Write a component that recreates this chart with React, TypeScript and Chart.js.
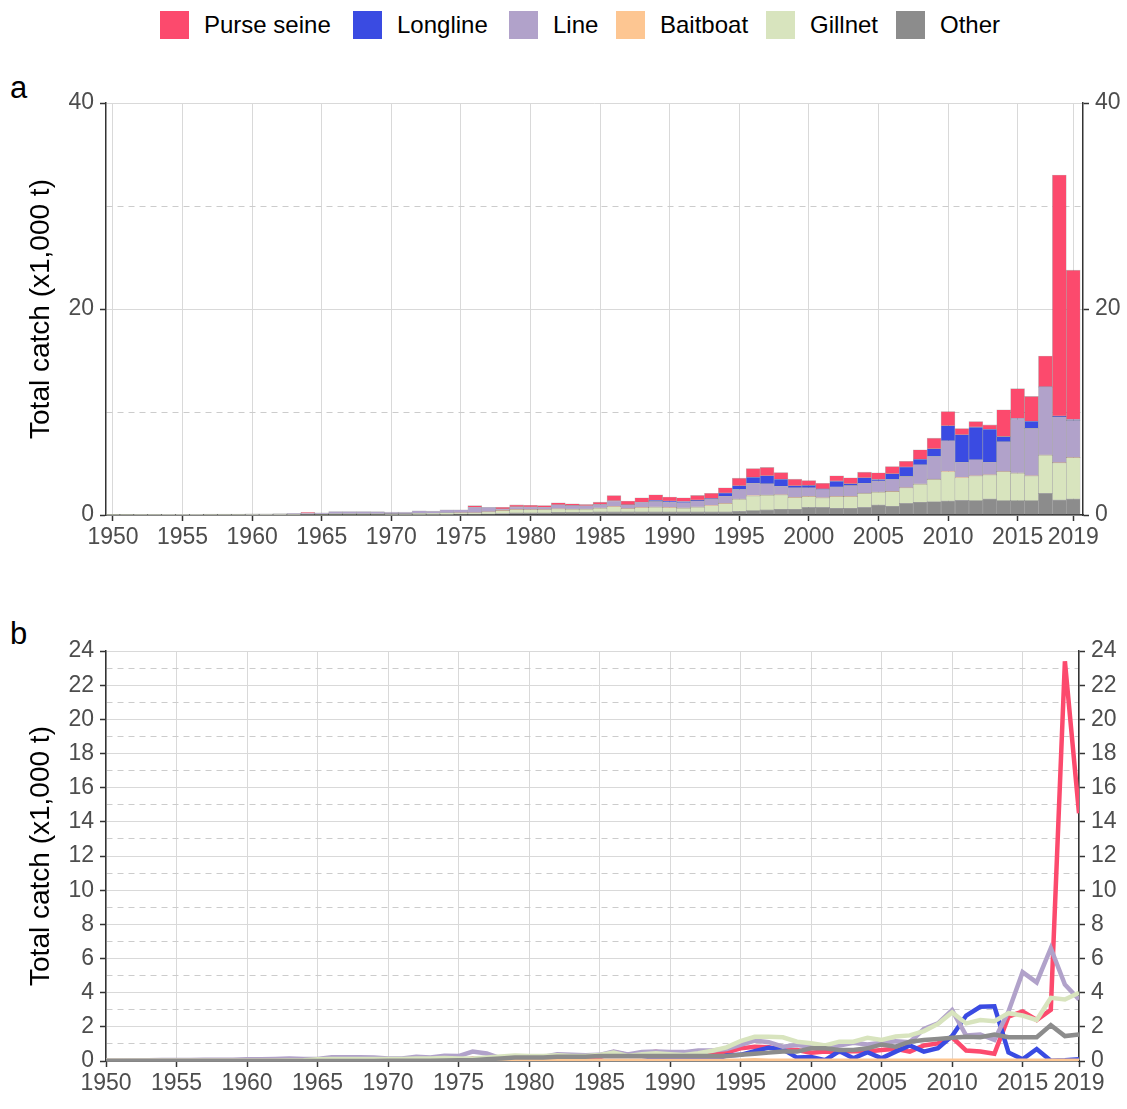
import React, { useEffect, useRef } from 'react';
import { Chart, registerables } from 'chart.js';

Chart.register(...registerables);

const years = [
  1950, 1951, 1952, 1953, 1954, 1955, 1956, 1957, 1958, 1959,
  1960, 1961, 1962, 1963, 1964, 1965, 1966, 1967, 1968, 1969,
  1970, 1971, 1972, 1973, 1974, 1975, 1976, 1977, 1978, 1979,
  1980, 1981, 1982, 1983, 1984, 1985, 1986, 1987, 1988, 1989,
  1990, 1991, 1992, 1993, 1994, 1995, 1996, 1997, 1998, 1999,
  2000, 2001, 2002, 2003, 2004, 2005, 2006, 2007, 2008, 2009,
  2010, 2011, 2012, 2013, 2014, 2015, 2016, 2017, 2018, 2019,
];

const purseSeine = [
  0, 0, 0, 0, 0, 0, 0, 0, 0, 0,
  0, 0, 0, 0, 0.08, 0, 0, 0, 0, 0,
  0, 0, 0, 0, 0, 0, 0.15, 0, 0.16, 0.19,
  0.16, 0.16, 0.2, 0.16, 0.13, 0.22, 0.52, 0.35, 0.43, 0.54,
  0.38, 0.36, 0.45, 0.52, 0.5, 0.74, 0.84, 0.81, 0.65, 0.64,
  0.48, 0.55, 0.52, 0.58, 0.55, 0.65, 0.71, 0.55, 0.91, 1.03,
  1.39, 0.61, 0.55, 0.42, 2.6, 2.9, 2.4, 3.0, 23.4, 14.5,
];

const longline = [
  0, 0, 0, 0, 0, 0, 0, 0, 0, 0,
  0, 0, 0, 0, 0, 0, 0, 0, 0, 0,
  0, 0, 0, 0, 0, 0, 0, 0, 0, 0,
  0, 0, 0, 0, 0, 0, 0, 0, 0, 0.1,
  0.12, 0.12, 0.06, 0.05, 0.32, 0.36, 0.58, 0.78, 0.68, 0.2,
  0.23, 0.05, 0.58, 0.16, 0.52, 0.16, 0.55, 0.91, 0.55, 0.75,
  1.46, 2.66, 3.17, 3.2, 0.5, 0.1, 0.7, 0.02, 0.05, 0.1,
];

const lineGear = [
  0.03, 0.03, 0.04, 0.04, 0.06, 0.06, 0.06, 0.07, 0.07, 0.08,
  0.1, 0.1, 0.12, 0.14, 0.12, 0.12, 0.22, 0.22, 0.22, 0.2,
  0.15, 0.15, 0.25, 0.2, 0.3, 0.29, 0.55, 0.44, 0.16, 0.26,
  0.26, 0.24, 0.39, 0.36, 0.33, 0.36, 0.55, 0.38, 0.52, 0.55,
  0.52, 0.52, 0.62, 0.62, 0.7, 0.94, 1.2, 1.1, 0.84, 0.94,
  0.84, 0.81, 0.91, 1.07, 0.97, 1.07, 1.16, 1.1, 1.87, 2.2,
  2.98, 1.49, 1.55, 1.23, 2.9, 5.2, 4.6, 6.6, 4.47, 3.6,
];

const baitboat = [
  0, 0, 0, 0, 0, 0, 0, 0, 0, 0,
  0, 0, 0, 0, 0, 0, 0, 0, 0, 0,
  0, 0, 0, 0, 0, 0.01, 0.01, 0.01, 0.01, 0.01,
  0.02, 0.02, 0.02, 0.02, 0.02, 0.02, 0.02, 0.02, 0.02, 0.02,
  0.02, 0.02, 0.02, 0.02, 0.02, 0.02, 0.05, 0.02, 0.02, 0.02,
  0.02, 0.02, 0.02, 0.02, 0.02, 0.02, 0.02, 0.02, 0.02, 0.02,
  0.02, 0.02, 0.02, 0.02, 0.02, 0.02, 0.02, 0.02, 0.02, 0.02,
];

const gillnet = [
  0.01, 0.01, 0.01, 0.01, 0.01, 0.01, 0.01, 0.01, 0.01, 0.01,
  0.01, 0.01, 0.01, 0.03, 0.05, 0.1, 0.12, 0.12, 0.12, 0.12,
  0.12, 0.12, 0.15, 0.15, 0.18, 0.15, 0.15, 0.2, 0.27, 0.32,
  0.3, 0.3, 0.33, 0.3, 0.3, 0.35, 0.5, 0.3, 0.4, 0.45,
  0.4, 0.35, 0.45, 0.6, 0.8, 1.16, 1.42, 1.42, 1.39, 1.13,
  1.04, 0.91, 1.13, 1.13, 1.36, 1.23, 1.43, 1.5, 1.75, 2.17,
  2.84, 2.2, 2.4, 2.33, 2.8, 2.66, 2.4, 3.7, 3.6, 4.0,
];

const other = [
  0, 0, 0, 0, 0, 0, 0, 0, 0, 0,
  0, 0, 0, 0, 0, 0, 0, 0, 0, 0,
  0.01, 0.01, 0.01, 0.02, 0.03, 0.05, 0.05, 0.1, 0.15, 0.2,
  0.2, 0.2, 0.25, 0.25, 0.25, 0.3, 0.3, 0.3, 0.3, 0.3,
  0.3, 0.3, 0.3, 0.3, 0.3, 0.36, 0.42, 0.49, 0.55, 0.55,
  0.74, 0.74, 0.65, 0.65, 0.74, 0.97, 0.84, 1.13, 1.23, 1.29,
  1.36, 1.42, 1.39, 1.55, 1.39, 1.39, 1.39, 2.1, 1.46, 1.55,
];

const xTickYears = [1950, 1955, 1960, 1965, 1970, 1975, 1980, 1985, 1990, 1995, 2000, 2005, 2010, 2015, 2019];
const gearNames = ['Purse seine', 'Longline', 'Line', 'Baitboat', 'Gillnet', 'Other'];
const gearColors = ['#FC4A6D', '#3A4BE2', '#B1A2CA', '#FDC692', '#D8E4BE', '#8C8C8C'];
const seriesList = [purseSeine, longline, lineGear, baitboat, gillnet, other];

const FONT = "'Liberation Sans', Arial, sans-serif";
const TICK_COLOR = '#4d4d4d';
const AXIS_COLOR = '#333333';
const GRID_COLOR = '#d9d9d9';
const MINOR_GRID_COLOR = '#cccccc';

function points(arr: number[]) {
  return years.map((y, i) => ({ x: y, y: arr[i] }));
}

function xAxis(min: number, max: number, height: number) {
  return {
    type: 'linear' as const,
    min,
    max,
    offset: false,
    stacked: true,
    afterBuildTicks: (s: any) => {
      s.ticks = xTickYears.map((v) => ({ value: v }));
    },
    afterFit: (s: any) => {
      s.height = height;
    },
    ticks: {
      autoSkip: false,
      maxRotation: 0,
      minRotation: 0,
      padding: 3,
      color: TICK_COLOR,
      font: { family: FONT, size: 23 },
      callback: (v: any) => String(v),
    },
    grid: { color: GRID_COLOR, lineWidth: 1, tickLength: 6, tickColor: AXIS_COLOR, tickWidth: 1.5, offset: false },
    border: { display: true, color: AXIS_COLOR, width: 1.5 },
  };
}

function yAxis(
  position: 'left' | 'right',
  max: number,
  major: number,
  width: number,
  withTitle: boolean,
  onArea: boolean
) {
  const isMinor = (ctx: any) => ctx.tick && Math.round(ctx.tick.value) % major !== 0;
  return {
    type: 'linear' as const,
    position,
    min: 0,
    max,
    stacked: true,
    afterFit: (s: any) => {
      s.width = width;
    },
    ticks: {
      stepSize: major / 2,
      autoSkip: false,
      padding: 6,
      color: TICK_COLOR,
      font: { family: FONT, size: 23 },
      callback: (v: any) => (Math.round(v) % major === 0 ? String(v) : ''),
    },
    grid: {
      drawOnChartArea: onArea,
      color: (ctx: any) => (isMinor(ctx) ? MINOR_GRID_COLOR : GRID_COLOR),
      lineWidth: 1,
      tickLength: 6,
      tickWidth: 1.5,
      tickColor: (ctx: any) => (isMinor(ctx) ? 'rgba(0,0,0,0)' : AXIS_COLOR),
    },
    border: {
      display: true,
      color: AXIS_COLOR,
      width: 1.5,
      dash: (ctx: any) => (isMinor(ctx) ? [6, 5] : []),
    },
    title: {
      display: withTitle,
      text: 'Total catch (x1,000 t)',
      color: '#000000',
      font: { family: FONT, size: 28 },
      padding: { top: 24, bottom: 0 },
    },
  };
}

function StackedPanel() {
  const ref = useRef<HTMLCanvasElement | null>(null);
  useEffect(() => {
    if (!ref.current) return;
    const order = [5, 4, 3, 2, 1, 0]; // bottom to top: Other ... Purse seine
    const chart = new Chart(ref.current, {
      type: 'bar',
      data: {
        datasets: order.map((k) => ({
          label: gearNames[k],
          data: points(seriesList[k]),
          backgroundColor: gearColors[k],
          borderColor: 'rgba(70,70,70,0.35)',
          borderWidth: 0.6,
          borderSkipped: false,
          barPercentage: 1,
          categoryPercentage: 1,
          yAxisID: 'y',
        })),
      },
      options: {
        animation: false,
        responsive: false,
        maintainAspectRatio: false,
        layout: { padding: { top: 43, left: 0, right: 0, bottom: 0 } },
        plugins: { legend: { display: false }, tooltip: { enabled: false } },
        scales: {
          x: xAxis(1949.5, 2019.7, 45),
          y: yAxis('left', 40, 20, 106, true, true),
          y2: yAxis('right', 40, 20, 44, false, false),
        } as any,
      },
    });
    return () => chart.destroy();
  }, []);
  return <canvas ref={ref} width={1127} height={500} style={{ position: 'absolute', left: 0, top: 60 }} />;
}

function LinePanel() {
  const ref = useRef<HTMLCanvasElement | null>(null);
  useEffect(() => {
    if (!ref.current) return;
    const order = [5, 4, 3, 2, 1, 0]; // first drawn on top
    const chart = new Chart(ref.current, {
      type: 'line',
      data: {
        datasets: order.map((k) => ({
          label: gearNames[k],
          data: points(seriesList[k]),
          borderColor: gearColors[k],
          backgroundColor: gearColors[k],
          borderWidth: 4.5,
          pointRadius: 0,
          tension: 0,
          fill: false,
          yAxisID: 'y',
        })),
      },
      options: {
        animation: false,
        responsive: false,
        maintainAspectRatio: false,
        layout: { padding: { top: 51, left: 0, right: 0, bottom: 0 } },
        plugins: { legend: { display: false }, tooltip: { enabled: false } },
        scales: {
          x: { ...xAxis(1950, 2019, 48), stacked: false },
          y: { ...yAxis('left', 24, 2, 106, true, true), stacked: false },
          y2: { ...yAxis('right', 24, 2, 48, false, false), stacked: false },
        } as any,
      },
    });
    return () => chart.destroy();
  }, []);
  return <canvas ref={ref} width={1127} height={509} style={{ position: 'absolute', left: 0, top: 600 }} />;
}

const legendX = [160, 353, 509, 616, 766, 896];

export default function App() {
  return (
    <div
      style={{
        position: 'absolute',
        left: 0,
        top: 0,
        width: 1127,
        height: 1109,
        background: '#ffffff',
        fontFamily: FONT,
        overflow: 'hidden',
      }}
    >
      {gearNames.map((name, i) => (
        <div key={name} style={{ position: 'absolute', left: legendX[i], top: 11, height: 28, display: 'flex', alignItems: 'center' }}>
          <div style={{ width: 29, height: 28, background: gearColors[i] }} />
          <span style={{ marginLeft: 15, fontSize: 24, color: '#000', lineHeight: '28px', whiteSpace: 'nowrap' }}>{name}</span>
        </div>
      ))}
      <div style={{ position: 'absolute', left: 10, top: 70, fontSize: 31, color: '#000' }}>a</div>
      <div style={{ position: 'absolute', left: 10, top: 616, fontSize: 31, color: '#000' }}>b</div>
      <StackedPanel />
      <LinePanel />
    </div>
  );
}
